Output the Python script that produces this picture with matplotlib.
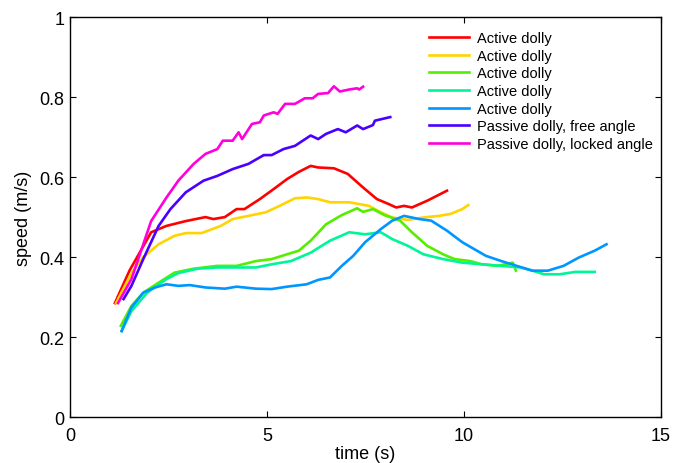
import numpy as np
import matplotlib
matplotlib.use('Agg')
import matplotlib.pyplot as plt

plt.rcParams['font.family'] = ['Liberation Sans', 'DejaVu Sans']

# time (s) / speed (m/s) for each run
red_t = [1.14, 1.51, 2.06, 2.45, 2.94, 3.44, 3.64, 3.93, 4.23, 4.43, 4.82, 5.17, 5.51, 5.81, 6.11, 6.30, 6.70, 7.05, 7.44, 7.79, 8.08, 8.28, 8.48, 8.68, 9.07, 9.57]
red_v = [0.285, 0.366, 0.462, 0.478, 0.49, 0.50, 0.495, 0.50, 0.52, 0.52, 0.545, 0.57, 0.595, 0.613, 0.628, 0.624, 0.622, 0.608, 0.574, 0.545, 0.533, 0.524, 0.528, 0.524, 0.541, 0.566]

yel_t = [1.17, 1.56, 1.86, 2.25, 2.65, 2.94, 3.34, 3.83, 4.13, 4.53, 4.97, 5.32, 5.71, 6.01, 6.30, 6.60, 7.09, 7.59, 7.89, 8.18, 8.58, 8.97, 9.37, 9.66, 9.96, 10.11]
yel_v = [0.285, 0.36, 0.40, 0.432, 0.453, 0.46, 0.46, 0.478, 0.495, 0.503, 0.512, 0.528, 0.547, 0.549, 0.545, 0.537, 0.537, 0.528, 0.512, 0.499, 0.493, 0.499, 0.503, 0.508, 0.52, 0.53]

grn_t = [1.29, 1.56, 1.86, 2.25, 2.65, 3.14, 3.74, 4.23, 4.72, 5.12, 5.51, 5.81, 6.11, 6.50, 6.90, 7.29, 7.44, 7.69, 7.98, 8.38, 8.68, 9.07, 9.47, 9.76, 10.16, 10.45, 10.85, 11.24, 11.32]
grn_v = [0.228, 0.278, 0.311, 0.336, 0.361, 0.371, 0.378, 0.378, 0.39, 0.395, 0.407, 0.416, 0.441, 0.482, 0.505, 0.522, 0.513, 0.52, 0.505, 0.491, 0.462, 0.428, 0.407, 0.395, 0.39, 0.382, 0.378, 0.386, 0.366]

spr_t = [1.31, 1.56, 1.96, 2.45, 2.75, 3.24, 3.74, 4.23, 4.72, 5.12, 5.61, 6.11, 6.60, 7.09, 7.49, 7.89, 8.18, 8.58, 8.97, 9.47, 9.96, 10.45, 10.95, 11.44, 11.74, 12.04, 12.43, 12.83, 13.32]
spr_v = [0.215, 0.265, 0.311, 0.345, 0.36, 0.371, 0.374, 0.374, 0.374, 0.382, 0.39, 0.411, 0.441, 0.462, 0.457, 0.462, 0.445, 0.428, 0.407, 0.395, 0.386, 0.382, 0.378, 0.374, 0.366, 0.357, 0.357, 0.363, 0.363]

azu_t = [1.31, 1.56, 1.86, 2.16, 2.45, 2.75, 3.04, 3.44, 3.93, 4.23, 4.72, 5.12, 5.51, 6.01, 6.30, 6.60, 6.90, 7.19, 7.49, 7.89, 8.18, 8.48, 8.87, 9.17, 9.57, 9.96, 10.26, 10.56, 10.95, 11.34, 11.74, 12.13, 12.53, 12.92, 13.32, 13.62]
azu_v = [0.215, 0.274, 0.311, 0.324, 0.332, 0.328, 0.33, 0.324, 0.321, 0.326, 0.321, 0.32, 0.326, 0.332, 0.343, 0.349, 0.378, 0.403, 0.437, 0.47, 0.491, 0.503, 0.495, 0.491, 0.466, 0.437, 0.42, 0.403, 0.39, 0.378, 0.366, 0.366, 0.378, 0.399, 0.416, 0.432]

free_t = [1.36, 1.56, 1.86, 2.25, 2.55, 2.94, 3.39, 3.74, 4.13, 4.53, 4.92, 5.12, 5.42, 5.71, 6.11, 6.30, 6.50, 6.80, 7.00, 7.29, 7.44, 7.69, 7.74, 8.13]
free_v = [0.295, 0.328, 0.395, 0.478, 0.52, 0.562, 0.591, 0.603, 0.62, 0.633, 0.655, 0.655, 0.67, 0.678, 0.704, 0.695, 0.708, 0.72, 0.712, 0.729, 0.72, 0.73, 0.741, 0.75]

lock_t = [1.22, 1.56, 2.06, 2.45, 2.75, 3.14, 3.44, 3.74, 3.88, 4.13, 4.28, 4.37, 4.62, 4.82, 4.92, 5.17, 5.27, 5.46, 5.71, 5.96, 6.16, 6.30, 6.55, 6.70, 6.85, 7.09, 7.29, 7.34, 7.44]
lock_v = [0.285, 0.345, 0.49, 0.549, 0.591, 0.633, 0.658, 0.67, 0.691, 0.691, 0.712, 0.695, 0.733, 0.737, 0.754, 0.762, 0.758, 0.783, 0.783, 0.797, 0.797, 0.808, 0.81, 0.827, 0.814, 0.819, 0.822, 0.819, 0.826]

labels = ['Active dolly'] * 5 + ['Passive dolly, free angle', 'Passive dolly, locked angle']
colors = ['#ff0000', '#ffd400', '#55ee00', '#00f596', '#0096ff', '#4a00ff', '#ff00dc']

series = [(red_t, red_v), (yel_t, yel_v), (grn_t, grn_v), (spr_t, spr_v),
          (azu_t, azu_v), (free_t, free_v), (lock_t, lock_v)]

fig = plt.figure(figsize=(6.73, 4.64), dpi=100)
ax = fig.add_axes([0.104, 0.099, 0.878, 0.862])

for (t, v), lab, c in zip(series, labels, colors):
    ax.plot(t, v, color=c, lw=1.9, label=lab)

ax.set_xlim(0, 15)
ax.set_ylim(0, 1)
ax.set_xticks([0, 5, 10, 15])
ax.set_yticks([0, 0.2, 0.4, 0.6, 0.8, 1])
ax.set_yticklabels(['0', '0.2', '0.4', '0.6', '0.8', '1'])
ax.tick_params(direction='in', length=4, width=0.8, labelsize=13,
               top=True, right=True, pad=4)
ax.tick_params(axis='x', pad=7)
for s in ax.spines.values():
    s.set_linewidth(1.0)

ax.set_xlabel('time (s)', fontsize=13, labelpad=1)
ax.set_ylabel('speed (m/s)', fontsize=13, labelpad=5)

ax.legend(loc='upper left', bbox_to_anchor=(0.608, 0.965), fontsize=10.5,
          frameon=False, handlelength=2.75, handletextpad=0.55,
          labelspacing=0.25, borderpad=0, borderaxespad=0)

fig.savefig('out.png', dpi=100)
